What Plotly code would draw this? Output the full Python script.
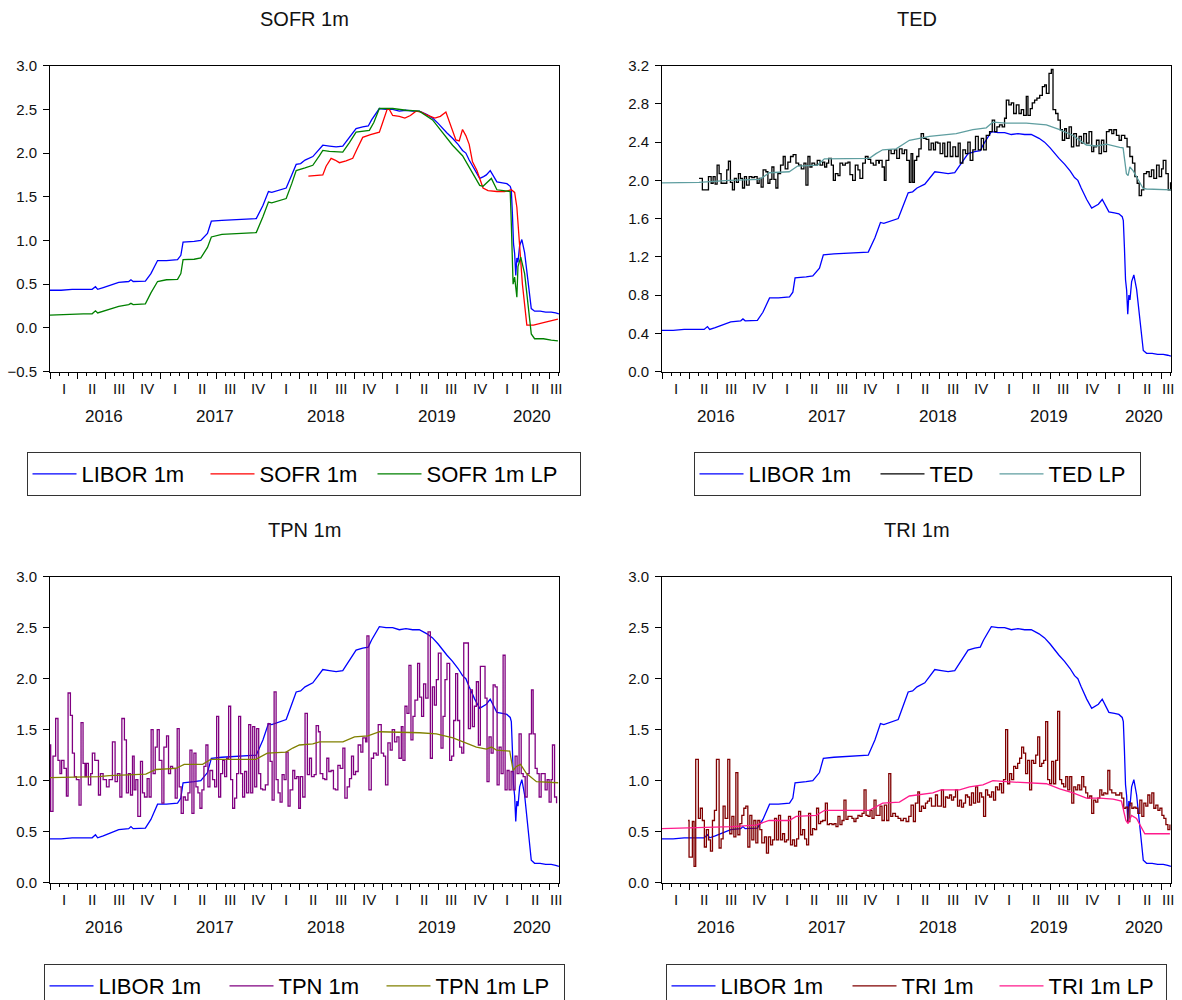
import plotly.graph_objects as go

YEAR0 = 2016.0
X_END = 2020.59

# ---------------- data (t = years since 2016-01-01) ----------------
libor_t = [0.00,0.10,0.20,0.30,0.38,0.41,0.43,0.48,0.55,0.62,
           0.71,0.73,0.75,0.86,0.91,0.97,1.05,1.15,1.18,1.20,
           1.30,1.36,1.42,1.455,1.55,1.70,1.86,1.92,1.97,2.00,
           2.05,2.13,2.18,2.22,2.26,2.30,2.37,2.43,2.46,2.52,
           2.58,2.64,2.70,2.76,2.82,2.87,2.90,2.97,3.03,3.09,
           3.15,3.21,3.27,3.33,3.40,3.45,3.50,3.54,3.58,3.63,
           3.68,3.72,3.75,3.78,3.83,3.875,3.91,3.935,3.97,4.00,
           4.03,4.08,4.12,4.15,4.16,4.17,4.18,4.19,4.195,4.20,
           4.21,4.22,4.235,4.255,4.28,4.31,4.34,4.37,4.42,4.47,
           4.52,4.56,4.589]
libor_v = [0.43,0.43,0.44,0.44,0.44,0.47,0.44,0.46,0.49,0.52,
           0.53,0.55,0.53,0.535,0.62,0.77,0.77,0.78,0.83,0.98,
           0.99,1.00,1.08,1.22,1.23,1.24,1.25,1.40,1.56,1.55,
           1.57,1.60,1.75,1.87,1.88,1.92,1.96,2.04,2.09,2.08,
           2.07,2.08,2.18,2.28,2.30,2.31,2.38,2.51,2.50,2.50,
           2.48,2.49,2.48,2.48,2.44,2.40,2.34,2.28,2.23,2.17,
           2.10,2.03,2.00,1.92,1.80,1.71,1.73,1.75,1.80,1.74,
           1.67,1.66,1.65,1.62,1.58,1.30,0.96,0.85,0.72,0.60,
           0.80,0.75,0.94,1.01,0.86,0.55,0.22,0.19,0.19,0.18,
           0.18,0.17,0.16]

sofr_t = [2.33,2.40,2.46,2.49,2.535,2.57,2.61,2.67,2.73,2.77,
          2.82,2.89,2.97,3.00,3.04,3.06,3.09,3.15,3.20,3.25,
          3.30,3.35,3.39,3.47,3.52,3.57,3.61,3.66,3.69,3.72,
          3.75,3.78,3.81,3.85,3.905,3.95,4.03,4.10,4.16,4.19,
          4.21,4.26,4.30,4.36,4.45,4.58]
sofr_v = [1.735,1.74,1.75,1.85,1.94,1.92,1.89,1.91,1.94,2.05,
          2.18,2.21,2.24,2.35,2.50,2.50,2.43,2.42,2.40,2.43,
          2.48,2.47,2.44,2.40,2.42,2.47,2.32,2.15,2.14,2.27,
          2.20,2.10,1.90,1.80,1.60,1.57,1.56,1.56,1.58,1.55,
          1.38,0.50,0.03,0.03,0.06,0.10]

sofrlp_t = [0.00,0.10,0.20,0.30,0.38,0.41,0.43,0.50,0.62,0.71,
            0.73,0.75,0.86,0.91,0.97,1.05,1.15,1.18,1.20,1.30,
            1.36,1.42,1.455,1.55,1.70,1.86,1.92,1.97,2.00,2.05,
            2.13,2.18,2.22,2.30,2.37,2.43,2.46,2.52,2.64,2.70,
            2.76,2.88,2.92,2.97,3.09,3.21,3.33,3.45,3.54,3.63,
            3.72,3.78,3.875,3.905,3.98,4.03,4.15,4.16,4.176,4.19,
            4.21,4.22,4.245,4.28,4.31,4.34,4.37,4.45,4.52,4.58]
sofrlp_v = [0.145,0.15,0.16,0.16,0.16,0.195,0.17,0.20,0.245,0.265,
            0.28,0.265,0.275,0.40,0.53,0.55,0.555,0.62,0.78,0.785,
            0.80,0.92,1.04,1.07,1.08,1.09,1.27,1.44,1.43,1.45,
            1.48,1.65,1.80,1.83,1.86,1.97,2.03,2.02,2.01,2.12,
            2.24,2.26,2.35,2.51,2.51,2.49,2.48,2.38,2.24,2.09,
            1.97,1.84,1.63,1.62,1.71,1.58,1.56,1.19,0.50,0.58,
            0.35,0.70,0.81,0.62,0.25,-0.07,-0.125,-0.125,-0.14,-0.15]

ted_t = [0.334,0.364,0.394,0.419,0.443,0.461,0.479,0.497,0.515,0.533,
         0.563,0.584,0.599,0.617,0.635,0.653,0.671,0.689,0.707,0.726,
         0.744,0.762,0.786,0.810,0.834,0.858,0.876,0.894,0.912,0.937,
         0.955,0.973,0.991,1.009,1.027,1.045,1.069,1.093,1.111,1.135,
         1.159,1.183,1.208,1.232,1.256,1.280,1.298,1.316,1.334,1.352,
         1.376,1.400,1.425,1.449,1.467,1.485,1.503,1.527,1.545,1.563,
         1.587,1.605,1.629,1.653,1.677,1.695,1.719,1.743,1.767,1.785,
         1.810,1.834,1.858,1.882,1.906,1.930,1.954,
         1.960,1.985,2.005,2.020,2.045,2.066,2.096,2.117,2.141,2.165,
         2.186,2.207,2.231,2.246,2.261,2.276,2.297,2.316,2.337,2.358,
         2.382,2.406,2.427,2.448,2.466,2.487,2.508,2.532,2.550,2.575,
         2.599,2.623,2.647,2.671,2.689,2.713,2.737,2.758,2.779,2.803,
         2.827,2.852,2.879,2.900,2.924,2.954,2.978,2.999,3.020,3.044,
         3.068,3.089,3.105,3.128,3.150,3.171,3.195,3.219,3.240,3.261,
         3.285,3.300,3.321,3.339,3.360,3.381,3.406,3.430,3.451,3.466,
         3.490,3.511,3.526,3.550,3.571,3.592,3.610,3.631,3.647,3.671,
         3.692,3.713,3.737,3.761,3.782,3.803,3.827,3.851,3.875,3.893,
         3.918,3.941,3.963,3.984,4.008,4.032,4.056,4.074,4.098,4.122,
         4.143,4.173,4.194,4.219,4.243,4.264,4.285,4.303,4.324,4.345,
         4.369,4.393,4.414,4.435,4.460,4.483,4.505,4.520,4.544,4.565,
         4.586]
ted_v = [2.02,1.90,1.90,2.04,1.97,2.04,1.96,2.16,2.07,1.97,
         1.97,2.11,2.20,1.98,1.90,2.02,1.98,2.07,2.02,1.92,
         2.04,1.95,2.04,2.03,2.04,1.97,2.02,1.93,2.11,2.09,
         1.97,2.01,2.14,2.01,1.92,2.07,2.16,2.25,2.12,2.19,
         2.25,2.27,2.18,2.16,2.12,2.18,1.95,2.25,2.14,2.18,
         2.16,2.21,2.16,2.19,2.14,2.18,2.23,2.16,2.00,2.07,
         2.05,2.18,2.16,2.18,2.19,2.06,2.00,2.16,2.11,2.02,
         2.18,2.25,2.22,2.18,2.16,2.21,2.18,
         2.21,2.14,2.00,2.21,2.32,2.28,2.32,2.23,2.33,2.28,
         2.32,2.21,1.98,2.28,1.98,2.21,2.25,2.33,2.49,2.44,
         2.43,2.32,2.39,2.32,2.40,2.39,2.28,2.39,2.25,2.40,
         2.25,2.35,2.25,2.39,2.18,2.32,2.28,2.40,2.21,2.32,
         2.46,2.32,2.44,2.32,2.47,2.51,2.63,2.51,2.56,2.58,
         2.56,2.65,2.84,2.79,2.81,2.70,2.79,2.70,2.74,2.68,
         2.88,2.68,2.75,2.81,2.84,2.86,2.89,2.98,3.00,2.91,
         3.12,3.16,2.74,2.70,2.63,2.53,2.42,2.54,2.44,2.56,
         2.35,2.49,2.36,2.46,2.39,2.49,2.39,2.51,2.30,2.35,
         2.42,2.28,2.42,2.30,2.51,2.53,2.49,2.53,2.47,2.42,
         2.47,2.44,2.35,2.25,2.18,2.04,1.97,1.84,1.90,2.07,
         2.09,2.04,2.11,2.02,2.16,2.04,2.12,2.21,2.07,1.90,
         1.98]

tedlp_t = [0.0,0.334,0.605,0.876,0.92,0.967,1.147,1.185,1.223,1.404,
           1.435,1.464,1.870,1.93,1.990,2.111,2.231,2.412,2.653,2.803,
           2.924,2.984,3.105,3.285,3.466,3.586,3.707,3.827,3.918,4.008,
           4.128,4.158,4.188,4.203,4.219,4.249,4.339,4.369,4.589]
tedlp_v = [1.974,1.98,2.00,2.01,2.04,2.08,2.09,2.12,2.15,2.16,
           2.19,2.225,2.23,2.28,2.32,2.33,2.42,2.46,2.49,2.53,
           2.55,2.61,2.60,2.60,2.58,2.53,2.47,2.37,2.36,2.38,
           2.345,2.34,2.07,2.05,2.14,2.10,1.915,1.91,1.90]

tpn_t = [0.000,0.006,0.027,0.051,0.072,0.090,0.105,0.126,0.148,0.163,
         0.184,0.202,0.220,0.238,0.262,0.280,0.298,0.316,0.328,0.346,
         0.367,0.382,0.404,0.425,0.437,0.455,0.479,0.509,0.533,0.563,
         0.587,0.608,0.630,0.648,0.671,0.689,0.707,0.726,0.744,0.759,
         0.774,0.792,0.816,0.834,0.852,0.876,0.894,0.912,0.930,0.949,
         0.967,0.985,1.009,1.027,1.051,1.069,1.087,1.105,1.129,1.147,
         1.165,1.183,1.202,1.220,1.244,1.262,1.280,1.298,1.316,1.334,
         1.352,1.370,1.388,1.406,1.424,1.442,1.466,1.485,1.503,1.521,
         1.539,1.557,1.575,1.593,1.611,1.629,1.647,1.665,1.683,1.701,
         1.719,1.737,1.755,1.773,1.792,1.810,1.828,1.846,1.864,1.882,
         1.900,1.918,1.942,1.966,1.985,2.003,2.021,2.039,2.057,2.075,
         2.093,2.111,2.129,2.147,2.165,2.189,2.207,2.225,2.243,
         2.258,2.279,2.300,2.321,2.340,2.358,2.382,2.400,2.421,2.436,
         2.460,2.478,2.496,2.514,2.535,2.556,2.574,2.596,2.617,2.641,
         2.659,2.680,2.701,2.719,2.737,2.755,2.779,2.803,2.821,2.846,
         2.858,2.876,2.897,2.918,2.942,2.960,2.987,3.008,3.026,3.047,
         3.068,3.086,3.107,3.128,3.147,3.168,3.183,3.201,3.219,3.237,
         3.255,3.273,3.291,3.315,3.333,3.351,3.369,3.388,3.409,3.430,
         3.448,3.466,3.484,3.502,3.526,3.544,3.562,3.580,3.604,3.622,
         3.640,3.658,3.676,3.694,3.713,3.731,3.755,3.773,3.791,3.809,
         3.827,3.845,3.863,3.881,3.905,3.923,3.941,3.959,3.978,3.996,
         4.014,4.032,4.050,4.068,4.086,4.104,4.122,4.140,4.158,4.176,
         4.194,4.212,4.230,4.249,4.267,4.285,4.303,4.321,4.342,4.357,
         4.375,4.393,4.411,4.429,4.447,4.465,4.483,4.501,4.519,4.531,
         4.550,4.568]
tpn_v = [1.35,0.70,1.24,1.61,1.20,1.07,1.20,1.12,0.85,1.86,
         1.64,1.27,1.04,1.01,0.76,1.57,1.17,1.04,1.17,0.96,
         1.07,1.27,1.20,1.20,0.86,1.07,1.01,0.94,1.01,1.38,
         0.99,1.07,0.84,1.61,1.40,0.88,1.07,0.86,1.24,0.91,
         1.01,0.65,1.19,0.88,0.84,1.02,0.84,1.50,1.07,1.33,
         1.50,1.20,0.78,1.33,1.44,1.07,1.14,1.12,0.83,1.51,
         0.94,0.68,0.84,0.81,0.88,1.30,0.68,1.27,0.94,0.88,
         0.73,0.91,1.14,1.35,0.94,1.10,1.01,0.94,1.63,0.84,
         1.07,1.20,1.04,1.22,1.73,1.01,0.73,0.83,1.07,1.63,
         1.07,0.84,1.09,0.88,1.55,0.88,1.53,0.94,1.51,1.07,
         0.92,0.91,0.96,1.56,1.19,0.81,1.87,1.01,0.88,0.79,
         1.06,1.01,1.28,0.75,0.91,1.10,1.02,1.04,0.73,
         1.04,0.84,1.66,1.06,1.22,1.04,1.06,1.54,1.48,1.07,
         1.02,1.01,1.22,1.09,1.10,0.92,0.91,1.15,1.12,1.32,
         0.83,0.94,1.02,1.24,1.06,1.09,1.35,1.28,1.42,1.38,
         2.42,0.91,1.22,1.27,1.25,1.55,1.27,1.24,0.96,1.37,
         1.30,1.50,1.38,1.43,1.22,1.53,1.20,1.73,1.66,2.13,
         1.40,1.63,1.79,2.15,1.82,1.63,1.95,1.81,2.46,1.22,
         1.92,1.74,1.99,2.25,1.32,1.63,1.99,2.15,1.20,1.24,
         1.59,2.05,1.59,1.33,1.27,2.35,2.35,1.51,1.89,1.53,
         1.73,1.97,1.35,2.12,2.12,1.81,0.99,1.43,1.27,1.94,
         1.92,0.96,1.33,1.07,2.23,0.91,1.10,0.91,1.09,0.91,
         1.24,1.07,1.46,1.07,1.04,0.84,1.07,1.46,1.89,1.46,
         1.12,1.07,0.84,1.07,1.07,0.91,1.01,0.79,1.01,1.35,
         0.84,0.78]

tpnlp_t = [0.0,0.443,0.533,0.744,0.864,0.955,1.135,1.21,1.376,1.45,
           1.856,1.96,2.129,2.189,2.249,2.37,2.43,2.641,2.746,2.867,
           2.972,3.333,3.484,3.634,3.755,3.845,3.935,3.981,4.026,4.146,
           4.176,4.206,4.243,4.297,4.387,4.583]
tpnlp_v = [1.03,1.04,1.05,1.06,1.065,1.11,1.12,1.16,1.16,1.21,
           1.21,1.27,1.28,1.32,1.35,1.36,1.38,1.38,1.43,1.44,
           1.48,1.47,1.46,1.42,1.37,1.33,1.31,1.33,1.30,1.29,
           1.10,1.14,1.16,1.07,0.99,0.98]

tri_t = [0.235,0.244,0.262,0.274,0.289,0.304,0.328,0.346,0.364,0.382,
         0.400,0.419,0.437,0.455,0.473,0.491,0.515,0.533,0.551,0.569,
         0.593,0.611,0.630,0.648,0.666,0.684,0.702,0.720,0.738,0.756,
         0.774,0.792,0.810,0.828,0.846,0.864,0.882,0.900,0.924,0.942,
         0.960,0.979,0.997,1.015,1.033,1.051,1.069,1.087,1.105,1.123,
         1.141,1.159,1.177,1.195,1.214,1.232,1.250,1.268,1.286,1.304,
         1.322,1.340,1.358,1.376,1.394,1.412,1.430,1.449,1.473,1.491,
         1.509,1.533,1.551,1.569,1.587,1.605,1.623,1.641,1.659,1.677,
         1.695,1.713,1.731,1.749,1.767,1.785,1.804,1.822,1.840,1.858,
         1.876,1.894,1.912,1.930,1.948,1.966,
         1.984,2.005,2.026,2.045,2.063,2.081,2.105,2.129,2.153,2.177,
         2.201,2.225,2.246,2.267,2.285,2.307,2.322,2.340,2.358,2.376,
         2.394,2.412,2.430,2.448,2.466,2.484,2.502,2.520,2.538,2.557,
         2.575,2.593,2.611,2.629,2.647,2.665,2.683,2.701,2.719,2.737,
         2.755,2.773,2.791,2.809,2.828,2.846,2.864,2.882,2.900,2.918,
         2.936,2.954,2.972,2.990,3.008,3.026,3.044,3.062,3.080,3.099,
         3.117,3.135,3.153,3.171,3.189,3.207,3.225,3.243,3.261,3.279,
         3.297,3.315,3.333,3.351,3.370,3.388,3.406,3.424,3.442,3.460,
         3.478,3.496,3.514,3.532,3.550,3.568,3.586,3.604,3.622,3.641,
         3.659,3.677,3.695,3.713,3.731,3.749,3.767,3.785,3.803,3.821,
         3.839,3.857,3.875,3.893,3.911,3.930,3.948,3.966,3.984,4.002,
         4.020,4.038,4.056,4.074,4.092,4.110,4.128,4.146,4.164,4.183,
         4.201,4.219,4.237,4.255,4.273,4.291,4.309,4.327,4.345,4.363,
         4.381,4.399,4.417,4.435,4.453,4.472,4.490,4.508,4.526,4.544,
         4.562,4.580]
tri_v = [0.61,0.25,0.25,0.60,0.16,1.21,0.63,0.73,0.61,0.35,
         0.52,0.42,0.31,0.61,0.71,1.21,0.34,0.43,0.75,0.63,
         1.21,0.48,0.65,0.45,1.08,0.47,0.58,0.66,0.73,0.75,
         0.35,0.66,0.42,0.61,0.39,0.61,0.52,0.39,0.45,0.29,
         0.45,0.37,0.42,0.63,0.42,0.66,0.42,0.48,0.40,0.42,
         0.65,0.37,0.42,0.36,0.43,0.70,0.47,0.52,0.43,0.37,
         0.68,0.47,0.53,0.52,0.73,0.58,0.60,0.61,0.78,0.57,
         0.58,0.57,0.58,0.55,0.65,0.57,0.61,0.81,0.62,0.65,
         0.65,0.63,0.60,0.63,0.66,0.65,0.68,0.91,0.66,0.65,
         0.71,0.63,0.81,0.66,0.66,0.75,
         0.61,0.76,0.61,1.07,0.65,0.68,0.65,0.63,0.61,0.63,
         0.60,0.65,0.76,0.60,0.78,0.89,0.70,0.75,0.73,0.78,
         0.80,0.83,0.75,0.75,0.86,0.75,0.75,0.91,0.74,0.84,
         0.83,0.86,0.81,0.84,0.91,0.75,0.81,0.74,0.78,0.86,
         0.84,0.76,0.88,0.78,0.94,0.79,0.88,0.84,0.65,0.91,
         0.86,0.84,0.89,0.81,0.94,0.91,0.97,0.88,1.01,1.50,
         0.97,1.07,1.01,1.14,1.12,1.17,1.22,1.33,1.27,1.07,
         1.20,0.91,1.20,1.17,1.25,1.43,1.14,1.17,1.20,1.58,
         1.01,0.97,1.19,0.97,1.20,1.68,1.01,0.97,0.94,1.04,
         0.91,1.04,0.78,0.94,0.91,0.96,0.91,1.04,0.94,0.88,
         0.83,0.85,0.68,0.81,0.79,0.83,0.91,0.86,0.88,0.87,
         1.10,0.91,0.88,0.88,0.86,0.86,0.88,0.83,0.73,0.74,
         0.60,0.78,0.73,0.74,0.73,0.68,0.81,0.65,0.78,0.75,
         0.86,0.78,0.88,0.73,0.76,0.71,0.73,0.66,0.63,0.57,
         0.52,0.57]

trilp_t = [0.0,0.63,0.846,0.966,1.147,1.21,1.39,1.467,1.87,1.99,
           2.141,2.231,2.442,2.517,2.683,2.773,2.894,2.984,3.105,3.315,
           3.466,3.586,3.707,3.827,3.948,4.068,4.143,4.183,4.203,4.234,
           4.279,4.354,4.58]
trilp_v = [0.53,0.55,0.565,0.61,0.61,0.65,0.66,0.71,0.71,0.78,
           0.79,0.85,0.88,0.91,0.91,0.94,0.96,1.00,0.99,0.98,
           0.97,0.92,0.88,0.83,0.83,0.82,0.80,0.61,0.58,0.66,
           0.63,0.48,0.48]

QUARTER_LABELS = ["I", "II", "III", "IV"]
YEAR_LABELS = ["2016", "2017", "2018", "2019", "2020"]
YEAR_LABEL_POS = [0.49, 1.49, 2.49, 3.49, 4.345]

for a, b in [(libor_t, libor_v), (sofr_t, sofr_v), (sofrlp_t, sofrlp_v), (ted_t, ted_v),
             (tedlp_t, tedlp_v), (tpn_t, tpn_v), (tpnlp_t, tpnlp_v), (tri_t, tri_v), (trilp_t, trilp_v)]:
    assert len(a) == len(b), (len(a), len(b))


def X(t):
    return [YEAR0 + v for v in t]


FONT = "Liberation Sans, Arial, sans-serif"
LW = 1.3

XL = [50 / 1182, 559 / 1182]
XR = [662 / 1182, 1171 / 1182]
YT = [1 - 371.5 / 1000, 1 - 65.7 / 1000]
YB = [1 - 882.7 / 1000, 1 - 576.7 / 1000]

panels = [
    dict(sfx="", title="SOFR 1m", xd=XL, yd=YT, yr=[-0.5, 3.0], dt=0.5, leg="legend",
         lw=[119, 108, 148], lx=303.5, ly=452,
         series=[("LIBOR 1m", libor_t, libor_v, "#0000ff", "linear"),
                 ("SOFR 1m", sofr_t, sofr_v, "#ff0000", "linear"),
                 ("SOFR 1m LP", sofrlp_t, sofrlp_v, "#008000", "linear")]),
    dict(sfx="2", title="TED", xd=XR, yd=YT, yr=[0.0, 3.2], dt=0.4, leg="legend2",
         lw=[122, 60, 86], lx=917, ly=452,
         series=[("LIBOR 1m", libor_t, libor_v, "#0000ff", "linear"),
                 ("TED", ted_t, ted_v, "#000000", "hv"),
                 ("TED LP", tedlp_t, tedlp_v, "#5f9ea0", "linear")]),
    dict(sfx="3", title="TPN 1m", xd=XL, yd=YB, yr=[0.0, 3.0], dt=0.5, leg="legend3",
         lw=[121, 98, 123], lx=304, ly=964,
         series=[("LIBOR 1m", libor_t, libor_v, "#0000ff", "linear"),
                 ("TPN 1m", tpn_t, tpn_v, "#800080", "hv"),
                 ("TPN 1m LP", tpnlp_t, tpnlp_v, "#808000", "linear")]),
    dict(sfx="4", title="TRI 1m", xd=XR, yd=YB, yr=[0.0, 3.0], dt=0.5, leg="legend4",
         lw=[122, 88, 112], lx=916, ly=964,
         series=[("LIBOR 1m", libor_t, libor_v, "#0000ff", "linear"),
                 ("TRI 1m", tri_t, tri_v, "#800000", "hv"),
                 ("TRI 1m LP", trilp_t, trilp_v, "#ff1a8c", "linear")]),
]

fig = go.Figure()
annotations = []
layout = dict(
    template="none",
    width=1182, height=1000,
    margin=dict(l=0, r=0, t=0, b=0, autoexpand=False),
    paper_bgcolor="white", plot_bgcolor="white",
    font=dict(family=FONT, color="black"),
    showlegend=True,
)

for p in panels:
    s = p["sfx"]
    for (name, t, v, col, shape), lw in zip(p["series"], p["lw"]):
        fig.add_trace(go.Scatter(
            x=X(t), y=v, mode="lines", name=name,
            line=dict(color=col, width=LW, shape=shape),
            xaxis="x" + s, yaxis="y" + s, legend=p["leg"], showlegend=True,
            legendwidth=lw, hoverinfo="skip",
        ))
    nt = int(round((p["yr"][1] - p["yr"][0]) / p["dt"]))
    yticks = [round(p["yr"][0] + i * p["dt"], 3) for i in range(nt + 1)]
    layout["xaxis" + s] = dict(
        domain=p["xd"], anchor="y" + s, range=[YEAR0, X_END], automargin=False,
        showline=True, mirror=True, linecolor="black", linewidth=1,
        showgrid=False, zeroline=False,
        tickmode="linear", tick0=YEAR0, dtick=0.25, ticks="outside", ticklen=6,
        tickcolor="black", tickwidth=1, showticklabels=False,
        minor=dict(tick0=YEAR0, dtick=1 / 12, ticks="outside", ticklen=3,
                   tickcolor="black", tickwidth=1, showgrid=False),
    )
    layout["yaxis" + s] = dict(
        domain=p["yd"], anchor="x" + s, range=p["yr"], automargin=False,
        showline=True, mirror=True, linecolor="black", linewidth=1,
        showgrid=False, zeroline=False,
        tickmode="array", tickvals=yticks, tickformat=".1f",
        ticks="outside", ticklen=6, tickcolor="black", tickwidth=1,
        ticklabelstandoff=3,
        tickfont=dict(family=FONT, size=15, color="#111111"),
    )
    for q in range(19):
        mid = YEAR0 + q * 0.25 + 0.125
        annotations.append(dict(
            x=min(mid, X_END - 0.02), y=0, xref="x" + s, yref=("y" + s) + " domain",
            text=QUARTER_LABELS[q % 4], showarrow=False, yanchor="middle", xanchor="center",
            yshift=-17, font=dict(family=FONT, size=15, color="#111111")))
    for lab, pos in zip(YEAR_LABELS, YEAR_LABEL_POS):
        annotations.append(dict(
            x=YEAR0 + pos, y=0, xref="x" + s, yref=("y" + s) + " domain",
            text=lab, showarrow=False, yanchor="middle", xanchor="center",
            yshift=-45, font=dict(family=FONT, size=17, color="#111111")))
    annotations.append(dict(
        x=(p["xd"][0] + p["xd"][1]) / 2, y=p["yd"][1], xref="paper", yref="paper",
        text=p["title"], showarrow=False, yanchor="middle", xanchor="center",
        yshift=47, font=dict(family=FONT, size=20, color="#111111")))
    layout[p["leg"]] = dict(
        orientation="h", xanchor="center", yanchor="top",
        x=p["lx"] / 1182, y=1 - p["ly"] / 1000,
        bordercolor="#333333", borderwidth=1, bgcolor="white",
        font=dict(family=FONT, size=22, color="black"),
        itemwidth=44, entrywidthmode="pixels",
    )

layout["annotations"] = annotations
fig.update_layout(**layout)
fig.write_html("out.html",
               config={"displayModeBar": False, "staticPlot": False},
               post_script="document.body.style.margin='0px';document.body.style.padding='0px';")
